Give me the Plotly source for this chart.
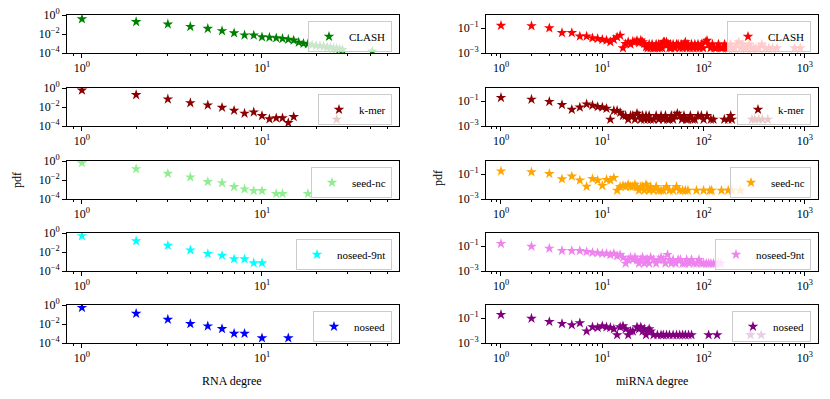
import plotly.graph_objects as go

W, H = 830, 399
SERIF = "Liberation Serif"

# ---------------- RNA degree (left column) ----------------
rna_clash_x = [1, 2, 3, 4, 5, 6, 7, 8, 9, 10, 11, 12, 13, 14, 15, 16, 17, 18, 19, 20,
               21, 22, 23, 24, 25, 26, 27, 28, 41]
rna_clash_y = [0.38, 0.19, 0.107, 0.06, 0.037, 0.021, 0.0126, 0.0075, 0.0073, 0.0048,
               0.0044, 0.0038, 0.0032, 0.0027, 0.0022, 0.0013, 0.0010, 0.0009, 0.0007, 0.0006,
               0.00055, 0.0005, 0.00042, 0.0004, 0.00032, 0.0003, 0.00025, 0.00022, 0.00015]

rna_kmer_x = [1, 2, 3, 4, 5, 6, 7, 8, 9, 10, 11, 12, 13, 14, 15, 26]
rna_kmer_y = [0.57, 0.19, 0.066, 0.027, 0.0155, 0.0089, 0.0043, 0.0021, 0.0029, 0.0012,
              0.00054, 0.00068, 0.00068, 0.00022, 0.00094, 0.0005]

rna_seednc_x = [1, 2, 3, 4, 5, 6, 7, 8, 9, 10, 12, 13, 18]
rna_seednc_y = [0.62, 0.147, 0.048, 0.02, 0.0065, 0.005, 0.0019, 0.0011, 0.00074, 0.00074,
                0.00036, 0.00036, 0.00036]

rna_noseed9_x = [1, 2, 3, 4, 5, 6, 7, 8, 9, 10]
rna_noseed9_y = [0.49, 0.147, 0.048, 0.0155, 0.0065, 0.0043, 0.0018, 0.0018, 0.0007, 0.0007]

rna_noseed_x = [1, 2, 3, 4, 5, 6, 7, 8, 10, 14]
rna_noseed_y = [0.53, 0.125, 0.03, 0.0105, 0.0059, 0.0031, 0.001, 0.001, 0.00033, 0.00033]

# ---------------- miRNA degree (right column) ----------------
mi_clash_x = [1, 2, 3, 4, 5, 6, 7, 8, 9, 10, 11, 12, 13, 14, 15,
              16, 17, 18, 19, 20, 21, 22, 23, 24, 25, 26, 27,
              28, 29, 30, 31, 32, 33, 34, 35, 36, 37, 38, 39,
              40, 41, 42, 43, 44, 45, 46, 47, 48,
              50, 52, 54, 56, 58, 60, 62, 64, 66, 68,
              70, 73, 76, 79, 82, 85, 88, 91, 95, 99,
              104, 108, 112, 117, 122, 128, 134, 140, 147, 154,
              161, 168, 176, 184, 193, 202, 212, 222, 232, 243,
              255, 268, 282, 297, 313, 330, 350, 375, 405, 440, 480, 530,
              790, 900]
mi_clash_y = [0.16, 0.15, 0.10, 0.042, 0.042, 0.022, 0.022, 0.016, 0.014, 0.012, 0.0105, 0.0078, 0.012, 0.019, 0.026,
              0.0025, 0.0055, 0.0078, 0.005, 0.0085, 0.0078, 0.01, 0.0065, 0.0105, 0.0075, 0.0055, 0.003,
              0.0025, 0.005, 0.0025, 0.005, 0.0025, 0.0025, 0.005, 0.0025, 0.005, 0.0025, 0.005, 0.0025,
              0.0075, 0.0075, 0.005, 0.0075, 0.005, 0.005, 0.0025, 0.005, 0.0025,
              0.005, 0.0025, 0.005, 0.005, 0.0025, 0.005, 0.0025, 0.005, 0.0075, 0.0025,
              0.005, 0.0025, 0.005, 0.0025, 0.005, 0.0025, 0.005, 0.0025, 0.005, 0.0025,
              0.0075, 0.01, 0.005, 0.0025, 0.005, 0.0025, 0.0025, 0.005, 0.0025, 0.0025,
              0.005, 0.0025, 0.0025, 0.005, 0.0025, 0.0025, 0.005, 0.0075, 0.0025, 0.005,
              0.0025, 0.0025, 0.005, 0.0025, 0.0025, 0.0025, 0.0025, 0.005, 0.0025, 0.0025, 0.0025, 0.0025,
              0.0025, 0.0025]

mi_kmer_x = [1, 2, 3, 4, 5, 6, 7, 8, 9, 10, 11, 12, 13, 14, 15, 16,
             17, 18, 19, 20, 21, 22, 23, 24, 25, 26, 27, 28, 29, 30,
             32, 34, 36, 38, 40, 42, 44, 46, 48, 50, 52, 55, 58, 61, 64, 67, 70, 74, 78, 82,
             88, 95, 100, 108, 118, 125,
             160, 175, 185, 190,
             300, 320, 350, 380, 430]
mi_kmer_y = [0.19, 0.135, 0.089, 0.051, 0.021, 0.032, 0.057, 0.045, 0.035, 0.032, 0.025, 0.0034, 0.017, 0.017, 0.012, 0.0068,
             0.0068, 0.0034, 0.0068, 0.0068, 0.0034, 0.01, 0.0068, 0.0034, 0.0068, 0.0034, 0.0068, 0.0034, 0.0068, 0.0034,
             0.0034, 0.0068, 0.0034, 0.0068, 0.0034, 0.0068, 0.0034, 0.0034, 0.0068, 0.0034, 0.0068, 0.01, 0.0068, 0.0034, 0.0068, 0.0034, 0.0034, 0.0068, 0.0034, 0.0034,
             0.0068, 0.0068, 0.0034, 0.0068, 0.0034, 0.0034,
             0.0034, 0.0034, 0.0068, 0.0034,
             0.0034, 0.0034, 0.0034, 0.0034, 0.0034]

mi_seednc_x = [1, 2, 3, 4, 5, 6, 7, 8, 9, 10, 11, 12, 13, 14, 15, 16,
               17, 18, 19, 20, 21, 22, 23, 24, 25, 26, 27, 28, 29, 30,
               32, 34, 36, 38, 40, 43, 46, 50, 54, 58, 62, 66, 70,
               85, 100, 115, 120, 150, 175, 190, 230]
mi_seednc_y = [0.17, 0.145, 0.107, 0.04, 0.066, 0.032, 0.01, 0.042, 0.032, 0.0117, 0.036, 0.032, 0.05, 0.0049, 0.0098, 0.0117,
               0.0098, 0.0146, 0.0098, 0.0098, 0.0146, 0.0098, 0.0049, 0.0098, 0.0098, 0.0049, 0.0146, 0.0098, 0.0049, 0.0098,
               0.0049, 0.0098, 0.0049, 0.0049, 0.0049, 0.0098, 0.0049, 0.0049, 0.0098, 0.0049, 0.0049, 0.0049, 0.0049,
               0.0049, 0.0049, 0.0049, 0.0049, 0.0049, 0.0049, 0.0049, 0.0049]

mi_noseed9_x = [1, 2, 3, 4, 5, 6, 7, 8, 9, 10, 11, 12, 13, 14, 15, 16,
                17, 18, 19, 20, 21, 22, 23, 24, 25, 26, 27, 28, 29, 30,
                32, 34, 36, 38, 40, 42, 44, 46, 48, 50, 53, 56, 59, 62, 65, 68, 72, 76, 80, 85,
                90, 95, 100, 106, 112, 118, 125, 132, 140, 148]
mi_noseed9_y = [0.155, 0.093, 0.065, 0.043, 0.042, 0.042, 0.035, 0.03, 0.028, 0.025, 0.025, 0.02, 0.025, 0.016, 0.02, 0.012,
                0.0041, 0.0082, 0.0123, 0.0082, 0.0123, 0.0082, 0.0041, 0.0082, 0.0123, 0.0041, 0.0082, 0.0082, 0.0041, 0.0123,
                0.0082, 0.0041, 0.0082, 0.0123, 0.0082, 0.0041, 0.0205, 0.0082, 0.0041, 0.0082, 0.0041, 0.0082, 0.0082, 0.0041, 0.0041, 0.0082, 0.0041, 0.0082, 0.0041, 0.0041,
                0.0082, 0.0041, 0.0041, 0.0041, 0.0041, 0.0041, 0.0041, 0.0041, 0.0041, 0.0041]

mi_noseed_x = [1, 2, 3, 4, 5, 6, 7, 8, 9, 10, 11, 12, 13, 14, 15, 16, 17, 18, 19, 20,
               22, 23, 24, 25, 26, 27, 28, 29, 30, 32, 35,
               38, 40, 43, 46, 50, 54, 58, 62, 66, 71, 76,
               112, 136, 290, 370]
mi_noseed_y = [0.19, 0.093, 0.051, 0.036, 0.028, 0.04, 0.009, 0.019, 0.017, 0.023, 0.019, 0.017, 0.0132, 0.0044, 0.019, 0.023, 0.0132, 0.0044, 0.0088, 0.0088,
               0.019, 0.0132, 0.019, 0.0088, 0.0132, 0.0044, 0.0088, 0.0132, 0.0088, 0.0044, 0.0044,
               0.0044, 0.0044, 0.0044, 0.0044, 0.0044, 0.0044, 0.0044, 0.0044, 0.0044, 0.0044, 0.0044,
               0.0044, 0.0044, 0.0044, 0.0044]

labels = ["CLASH", "k-mer", "seed-nc", "noseed-9nt", "noseed"]
left_colors = ["#008000", "#8B0000", "#90EE90", "#00FFFF", "#0000FF"]
right_colors = ["#FF0000", "#8B0000", "#FFA500", "#EE82EE", "#800080"]
left_series = [(rna_clash_x, rna_clash_y), (rna_kmer_x, rna_kmer_y), (rna_seednc_x, rna_seednc_y),
               (rna_noseed9_x, rna_noseed9_y), (rna_noseed_x, rna_noseed_y)]
right_series = [(mi_clash_x, mi_clash_y), (mi_kmer_x, mi_kmer_y), (mi_seednc_x, mi_seednc_y),
                (mi_noseed9_x, mi_noseed9_y), (mi_noseed_x, mi_noseed_y)]

# ---------------- layout geometry (pixels) ----------------
col_px = [(67, 399), (486, 818)]
row_tops = [15, 88, 161, 233, 305]
row_h = 38

left_minor = [0.9] + list(range(2, 10)) + [20, 30, 40, 50]
right_minor = [0.8, 0.9] + list(range(2, 10)) + [m * 10 for m in range(2, 10)] + [m * 100 for m in range(2, 10)]

fig = go.Figure()
layout = dict(
    template="none",
    width=W, height=H, margin=dict(l=0, r=0, t=0, b=0, pad=0, autoexpand=False),
    paper_bgcolor="white", plot_bgcolor="white",
    font=dict(family=SERIF, size=11, color="black"),
    showlegend=True,
)

axis_common = dict(type="log", showgrid=False, zeroline=False, showline=True, linecolor="black",
                   linewidth=1, mirror=True, ticks="outside", ticklen=4, tickwidth=1, tickcolor="black",
                   automargin=False,
                   tickfont=dict(family=SERIF, size=12, color="black"))

n = 0
for r in range(5):
    for c in range(2):
        n += 1
        xa = "xaxis" if n == 1 else f"xaxis{n}"
        ya = "yaxis" if n == 1 else f"yaxis{n}"
        xref = "x" if n == 1 else f"x{n}"
        yref = "y" if n == 1 else f"y{n}"
        lg = "legend" if n == 1 else f"legend{n}"
        x0, x1 = col_px[c]
        top = row_tops[r]
        xdom = [x0 / W, x1 / W]
        ydom = [1 - (top + row_h) / H, 1 - top / H]
        if c == 0:
            xs, ys = left_series[r]
            color = left_colors[r]
            xrange = [-0.083, 1.761]
            yrange = [-4, 0]
            xt = [1, 10]
            xtt = ["10<sup>0</sup>", "10<sup>1</sup>"]
            yt = [1, 1e-2, 1e-4]
            ytt = ["10<sup>0</sup>", "10<sup>\u22122</sup>", "10<sup>\u22124</sup>"]
            minor = left_minor
        else:
            xs, ys = right_series[r]
            color = right_colors[r]
            xrange = [-0.148, 3.129]
            yrange = [-3, 0.05]
            xt = [1, 10, 100, 1000]
            xtt = ["10<sup>0</sup>", "10<sup>1</sup>", "10<sup>2</sup>", "10<sup>3</sup>"]
            yt = [1e-1, 1e-3]
            ytt = ["10<sup>\u22121</sup>", "10<sup>\u22123</sup>"]
            minor = right_minor
        fig.add_trace(go.Scatter(
            x=xs, y=ys, mode="markers", name=labels[r],
            marker=dict(symbol="star", size=8, color=color, line=dict(width=0)),
            xaxis=xref, yaxis=yref, legend=lg, showlegend=True,
        ))
        layout[xa] = dict(axis_common, domain=xdom, range=xrange, anchor=yref,
                          tickmode="array", tickvals=xt, ticktext=xtt,
                          minor=dict(tickmode="array", tickvals=minor, ticks="outside",
                                     ticklen=2, tickwidth=1, tickcolor="black", showgrid=False))
        layout[ya] = dict(axis_common, domain=ydom, range=yrange, anchor=xref,
                          tickmode="array", tickvals=yt, ticktext=ytt)
        layout[lg] = dict(
            x=(x1 - 7) / W, y=1 - (top + 6) / H, xanchor="right", yanchor="top",
            xref="paper", yref="paper",
            bgcolor="rgba(255,255,255,0.8)", bordercolor="#cccccc", borderwidth=1,
            font=dict(family=SERIF, size=11, color="black"),
            tracegroupgap=0,
        )

fig.update_layout(**layout)

anns = [
    dict(text="pdf", x=17 / W, y=1 - 180 / H, textangle=-90),
    dict(text="pdf", x=438 / W, y=1 - 178 / H, textangle=-90),
    dict(text="RNA degree", x=232 / W, y=1 - 381 / H, textangle=0),
    dict(text="miRNA degree", x=652 / W, y=1 - 381 / H, textangle=0),
]
for a in anns:
    fig.add_annotation(text=a["text"], x=a["x"], y=a["y"], xref="paper", yref="paper",
                       showarrow=False, textangle=a["textangle"], xanchor="center", yanchor="middle",
                       font=dict(family=SERIF, size=12, color="black"))

fig.write_html("out.html", config={"displayModeBar": False},
               post_script="document.body.style.margin='0';document.body.style.overflow='hidden';")
